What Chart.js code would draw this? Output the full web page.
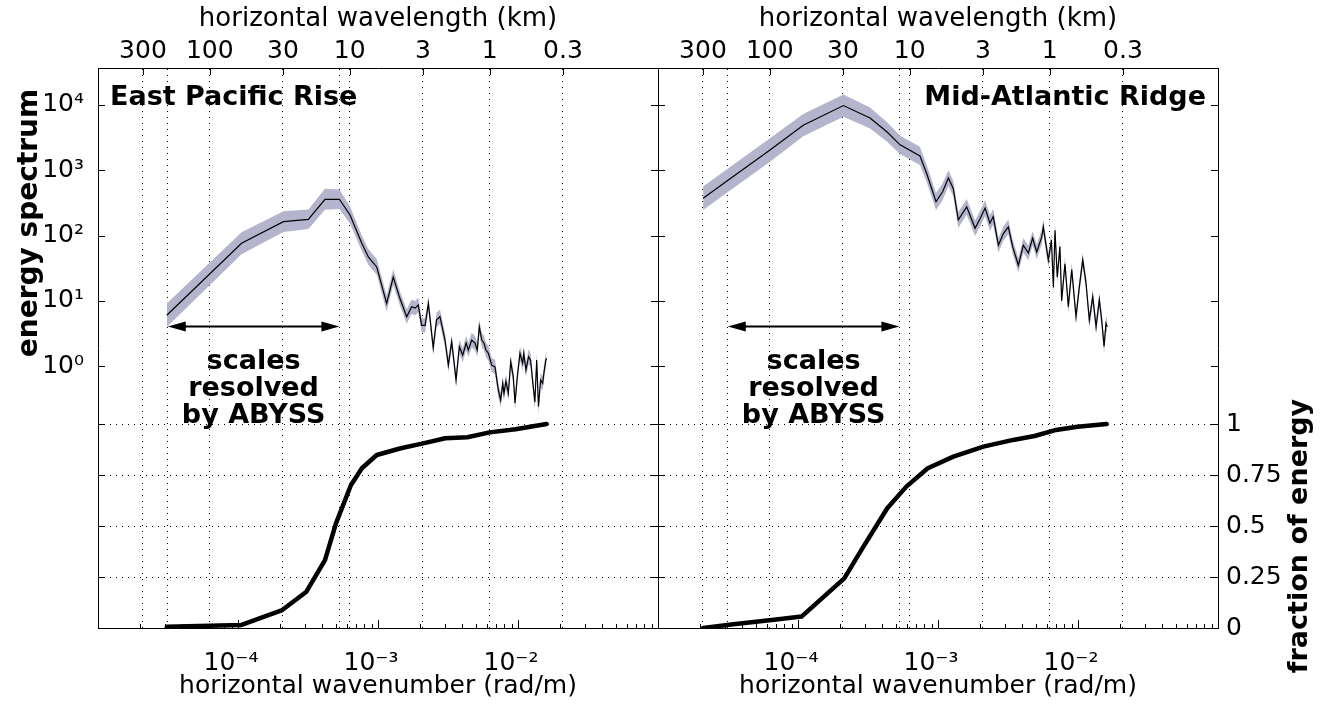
<!DOCTYPE html>
<html>
<head>
<meta charset="utf-8">
<script src="https://cdn.jsdelivr.net/npm/chart.js@4/dist/chart.umd.min.js"></script>
<style>
  html, body { margin: 0; padding: 0; background: #fff; }
  #wrap { position: relative; width: 1321px; height: 706px; overflow: hidden; background: #fff; }
  canvas { position: absolute; top: 0; }
  #left { left: 0; }
  #right { left: 658px; }
</style>
</head>
<body>
<div id="wrap">
  <canvas id="left" width="660" height="706"></canvas>
  <canvas id="right" width="663" height="706"></canvas>
</div>
<script>
// East Pacific Rise: wavenumber (rad/m), energy spectrum, half width of the shaded band (decades)
const eprK = [3.10e-5, 1.06e-4, 2.11e-4, 3.18e-4, 4.18e-4, 5.30e-4, 6.31e-4, 7.66e-4, 8.53e-4, 9.79e-4,
  1.153e-3, 1.285e-3, 1.435e-3, 1.603e-3, 1.74e-3, 1.84e-3, 1.94e-3, 2.05e-3, 2.17e-3, 2.29e-3,
  2.48e-3, 2.62e-3, 2.77e-3, 3.01e-3, 3.18e-3, 3.36e-3, 3.61e-3, 3.81e-3, 4.03e-3, 4.26e-3,
  4.42e-3, 4.67e-3, 4.93e-3, 5.12e-3, 5.29e-3, 5.51e-3, 5.72e-3, 5.90e-3, 6.14e-3, 6.49e-3,
  6.85e-3, 7.23e-3, 7.52e-3, 7.78e-3, 7.94e-3, 8.20e-3, 8.53e-3, 8.87e-3, 9.25e-3, 9.52e-3,
  9.89e-3, 1.033e-2, 1.08e-2, 1.10e-2, 1.14e-2, 1.19e-2, 1.23e-2, 1.27e-2, 1.32e-2, 1.36e-2,
  1.40e-2, 1.45e-2, 1.50e-2, 1.53e-2, 1.58e-2, 1.60e-2];
const eprE = [6.0, 76, 163, 177, 359, 359, 206, 76, 47, 33,
  9.1, 23, 10.8, 5.7, 8.1, 7.7, 8.6, 4.2, 4.2, 9.1,
  1.9, 5.1, 5.7, 2.5, 1.03, 2.36, 0.61, 1.98, 1.47, 2.24,
  1.76, 2.5, 2.24, 1.76, 4.0, 2.5, 2.24, 1.76, 1.57, 1.03,
  0.97, 0.43, 0.30, 0.54, 0.38, 0.58, 0.38, 1.16, 0.69, 0.27,
  0.69, 1.56, 1.1, 1.56, 0.87, 1.39, 1.23, 0.61, 0.28, 1.23,
  0.24, 0.61, 0.54, 0.77, 1.23, 1.31];
const eprBand = [0.18, 0.17, 0.16, 0.15, 0.16, 0.15, 0.13, 0.12, 0.12, 0.12,
  0.12, 0.12, 0.11, 0.11, 0.11, 0.11, 0.11, 0.11, 0.11, 0.11,
  0.11, 0.11, 0.11, 0.11, 0.11, 0.11, 0.11, 0.11, 0.11, 0.11,
  0.11, 0.11, 0.11, 0.11, 0.11, 0.11, 0.11, 0.11, 0.11, 0.11,
  0.11, 0.11, 0.11, 0.11, 0.11, 0.11, 0.11, 0.11, 0.11, 0.11,
  0.11, 0.11, 0.11, 0.11, 0.11, 0.11, 0.11, 0.11, 0.11, 0.11,
  0.11, 0.11, 0.11, 0.11, 0.11, 0.11];
const eprFracK = [3.1e-5, 1.06e-4, 2.07e-4, 3.08e-4, 4.18e-4, 5.01e-4, 6.40e-4, 7.67e-4,
  9.79e-4, 1.456e-3, 2.10e-3, 3.02e-3, 4.35e-3, 6.27e-3, 9.59e-3, 1.60e-2];
const eprFrac = [0.006, 0.015, 0.088, 0.178, 0.333, 0.513, 0.70, 0.783,
  0.848, 0.881, 0.905, 0.930, 0.935, 0.959, 0.974, 1.0];

// Mid-Atlantic Ridge
const marK = [2.1e-5, 3.18e-5, 6.31e-5, 1.09e-4, 2.11e-4, 3.27e-4, 4.31e-4, 5.36e-4, 7.43e-4, 8.30e-4,
  9.68e-4, 1.079e-3, 1.186e-3, 1.285e-3, 1.396e-3, 1.603e-3, 1.84e-3, 2.00e-3, 2.17e-3, 2.35e-3,
  2.48e-3, 2.70e-3, 2.93e-3, 3.18e-3, 3.41e-3, 3.75e-3, 4.07e-3, 4.42e-3, 4.74e-3, 5.07e-3,
  5.51e-3, 5.65e-3, 6.14e-3, 6.46e-3, 6.67e-3, 6.85e-3, 7.11e-3, 7.43e-3, 7.64e-3, 8.07e-3,
  8.53e-3, 9.02e-3, 9.68e-3, 1.021e-2, 1.081e-2, 1.14e-2, 1.205e-2, 1.274e-2, 1.346e-2, 1.42e-2,
  1.476e-2, 1.535e-2, 1.585e-2, 1.618e-2];
const marE = [372, 708, 2040, 4900, 9800, 6310, 3890, 2450, 1660, 890,
  331, 468, 759, 525, 174, 275, 129, 182, 263, 155,
  195, 71, 107, 135, 68, 35, 71, 54, 91, 56,
  95, 136, 42, 85, 16, 120, 23, 68, 10, 37,
  8.1, 30, 5.7, 16, 42, 19, 5.0, 11.5, 4.0, 10.3,
  5.1, 2.0, 4.5, 4.0];
const marBand = [0.18, 0.18, 0.18, 0.17, 0.17, 0.16, 0.15, 0.14, 0.14, 0.13,
  0.13, 0.13, 0.12, 0.12, 0.12, 0.12, 0.12, 0.12, 0.12, 0.12,
  0.12, 0.11, 0.11, 0.11, 0.11, 0.11, 0.11, 0.11, 0.11, 0.11,
  0.11, 0.11, 0.11, 0.11, 0.11, 0.11, 0.11, 0.11, 0.11, 0.11,
  0.11, 0.11, 0.11, 0.11, 0.11, 0.11, 0.11, 0.11, 0.11, 0.11,
  0.11, 0.11, 0.11, 0.11];
const marFracK = [2.1e-5, 3.58e-5, 6.73e-5, 1.06e-4, 2.14e-4, 2.94e-4, 4.34e-4, 5.94e-4,
  8.45e-4, 1.288e-3, 2.11e-3, 3.44e-3, 4.90e-3, 6.97e-3, 9.91e-3, 1.60e-2];
const marFrac = [0, 0.02, 0.04, 0.056, 0.243, 0.40, 0.587, 0.693,
  0.783, 0.840, 0.889, 0.922, 0.941, 0.971, 0.987, 1.0];

// axes
const wavelengthsKm = [300, 100, 30, 10, 3, 1, 0.3];   // top axis ticks
const abyssK = [3.15e-5, 5.3e-4];                       // scales resolved by ABYSS
const arrowLevel = 4.1;                                 // energy value where the arrow sits
const wavenumberTicks = [1e-4, 1e-3, 1e-2];             // labelled bottom ticks
const energyTicks = [1, 10, 100, 1000, 10000];
const fractionTicks = [0, 0.25, 0.5, 0.75, 1];

const FONT = '"DejaVu Sans", "Liberation Sans", sans-serif';
const BAND = '#b4b4cc';
const SUP = {'-': '⁻', '0': '⁰', '1': '¹', '2': '²', '3': '³', '4': '⁴', '5': '⁵', '6': '⁶', '7': '⁷', '8': '⁸', '9': '⁹'};

function pow10Label(n) {
  return '10' + String(n).split('').map(c => SUP[c]).join('');
}
function kFromKm(l) {
  return 2 * Math.PI / (l * 1000);
}
function isDecade(v) {
  const e = Math.log10(v);
  return Math.abs(e - Math.round(e)) < 1e-6;
}
// fixed box sizes so both plot areas land where the reference has them
function fixSize(s, w, h) {
  if (w !== null) s.width = w;
  if (h !== null) s.height = h;
  s.paddingLeft = s.paddingRight = s.paddingTop = s.paddingBottom = 0;
}

// bottom ticks: decades and minor ticks
const xTickValues = [];
for (let e = -5; e <= -1; e++) {
  xTickValues.push(Math.pow(10, e));
  if (e < -1) for (let m = 2; m <= 9; m++) xTickValues.push(m * Math.pow(10, e));
}

Chart.defaults.font.family = FONT;
Chart.defaults.font.size = 25;
Chart.defaults.color = '#000';

// tick marks, panel titles, arrow and side labels
const panelExtras = {
  id: 'panelExtras',
  afterDraw(chart, args, o) {
    const ctx = chart.ctx;
    const a = chart.chartArea;
    const sx = chart.scales.x, sx2 = chart.scales.x2, sy = chart.scales.y, sf = chart.scales.yf;
    ctx.save();
    ctx.strokeStyle = '#000';
    ctx.fillStyle = '#000';
    ctx.lineWidth = 1;
    ctx.beginPath();
    sx.ticks.forEach(t => {
      const px = Math.round(sx.getPixelForValue(t.value)) + 0.5;
      if (px <= a.left + 1 || px >= a.right - 1) return;
      const len = isDecade(t.value) ? 8 : 4;
      ctx.moveTo(px, a.bottom);
      ctx.lineTo(px, a.bottom - len);
    });
    wavelengthsKm.forEach(l => {
      const px = Math.round(sx2.getPixelForValue(kFromKm(l))) + 0.5;
      ctx.moveTo(px, a.top);
      ctx.lineTo(px, a.top + 7);
    });
    energyTicks.forEach(v => {
      const py = Math.round(sy.getPixelForValue(v)) + 0.5;
      ctx.moveTo(a.left, py); ctx.lineTo(a.left + 7, py);
      ctx.moveTo(a.right, py); ctx.lineTo(a.right - 7, py);
    });
    fractionTicks.forEach(v => {
      const py = Math.round(sf.getPixelForValue(v)) + 0.5;
      ctx.moveTo(a.left, py); ctx.lineTo(a.left + 7, py);
      ctx.moveTo(a.right, py); ctx.lineTo(a.right - 7, py);
    });
    ctx.stroke();

    // panel title
    ctx.font = 'bold 27px ' + FONT;
    ctx.textBaseline = 'alphabetic';
    if (o.titleAlign === 'left') {
      ctx.textAlign = 'left';
      ctx.fillText(o.title, a.left + 12, a.top + 37);
    } else {
      ctx.textAlign = 'right';
      ctx.fillText(o.title, a.right - 12, a.top + 37);
    }

    // double arrow over the ABYSS range
    const xa = sx.getPixelForValue(abyssK[0]);
    const xb = sx.getPixelForValue(abyssK[1]);
    const ya = Math.round(sy.getPixelForValue(arrowLevel)) + 0.5;
    const head = 18, hw = 5;
    ctx.lineWidth = 2;
    ctx.beginPath();
    ctx.moveTo(xa + head - 2, ya);
    ctx.lineTo(xb - head + 2, ya);
    ctx.stroke();
    ctx.beginPath();
    ctx.moveTo(xa, ya); ctx.lineTo(xa + head, ya - hw); ctx.lineTo(xa + head, ya + hw); ctx.closePath();
    ctx.moveTo(xb, ya); ctx.lineTo(xb - head, ya - hw); ctx.lineTo(xb - head, ya + hw); ctx.closePath();
    ctx.fill();

    const xm = sx.getPixelForValue(Math.sqrt(abyssK[0] * abyssK[1]));
    ctx.textAlign = 'center';
    ['scales', 'resolved', 'by ABYSS'].forEach((s, i) => {
      ctx.fillText(s, xm, ya + 42 + i * 27);
    });

    // vertical axis title
    ctx.translate(o.yTitleX, o.yTitleY);
    ctx.rotate(-Math.PI / 2);
    ctx.textBaseline = 'middle';
    ctx.font = 'bold ' + o.yTitleSize + 'px ' + FONT;
    ctx.fillText(o.yTitle, 0, 0);
    ctx.restore();
  }
};

function makePanel(id, p) {
  const onLeft = p.side === 'left';
  const band = (sign) => p.k.map((k, i) => ({x: k, y: p.e[i] * Math.pow(10, sign * p.band[i])}));
  return new Chart(document.getElementById(id), {
    type: 'line',
    data: {
      datasets: [
        {data: band(1), fill: '+1', backgroundColor: BAND, borderColor: 'transparent', borderWidth: 0, order: 3},
        {data: band(-1), fill: false, borderColor: 'transparent', borderWidth: 0, order: 3},
        {data: p.k.map((k, i) => ({x: k, y: p.e[i]})), fill: false, borderColor: '#000', borderWidth: 1.2, order: 1},
        {data: p.fk.map((k, i) => ({x: k, y: p.f[i]})), yAxisID: 'yf', fill: false, borderColor: '#000',
          borderWidth: 4.5, borderJoinStyle: 'round', borderCapStyle: 'round', order: 0}
      ]
    },
    options: {
      responsive: false,
      animation: false,
      devicePixelRatio: 1,
      events: [],
      layout: {padding: 0, autoPadding: false},
      elements: {point: {radius: 0}, line: {tension: 0}},
      plugins: {
        legend: {display: false},
        tooltip: {enabled: false},
        panelExtras: {title: p.title, titleAlign: p.side, yTitle: p.yTitle, yTitleX: p.yTitleX,
          yTitleY: p.yTitleY, yTitleSize: p.yTitleSize}
      },
      scales: {
        x: {
          type: 'logarithmic', position: 'bottom', min: 1e-5, max: 1e-1,
          afterBuildTicks: s => { s.ticks = xTickValues.map(v => ({value: v})); },
          afterFit: s => fixSize(s, null, 78),
          grid: {display: false},
          border: {display: true, color: '#000', width: 1},
          ticks: {
            autoSkip: false, maxRotation: 0, padding: 12, labelOffset: -7,
            callback: v => wavenumberTicks.some(t => Math.abs(Math.log10(t / v)) < 1e-6) ? pow10Label(Math.round(Math.log10(v))) : ''
          },
          title: {display: true, text: 'horizontal wavenumber (rad/m)', padding: {top: 0, bottom: 5}}
        },
        x2: {
          type: 'logarithmic', position: 'top', min: 1e-5, max: 1e-1, z: 1,
          afterBuildTicks: s => {
            s.ticks = wavelengthsKm.map(l => ({value: kFromKm(l)})).concat(abyssK.map(v => ({value: v})));
          },
          afterFit: s => fixSize(s, null, 68),
          grid: {display: true, color: '#000', lineWidth: 1, drawTicks: false},
          border: {display: true, color: '#000', width: 1, dash: [1, 5]},
          ticks: {
            autoSkip: false, maxRotation: 0, padding: 2,
            callback: (v, i) => i < wavelengthsKm.length ? String(wavelengthsKm[i]) : ''
          },
          title: {display: true, text: 'horizontal wavelength (km)', font: {size: 26}, padding: {top: 4, bottom: 0}}
        },
        y: {
          type: 'logarithmic', position: 'left', min: Math.pow(10, -4.015), max: Math.pow(10, 4.567),
          afterBuildTicks: s => { s.ticks = energyTicks.map(v => ({value: v})); },
          afterFit: s => fixSize(s, onLeft ? 98 : 0, null),
          grid: {display: false},
          border: {display: true, color: '#000', width: 1},
          ticks: {display: onLeft, autoSkip: false, padding: 6, callback: v => pow10Label(Math.round(Math.log10(v)))}
        },
        yf: {
          type: 'linear', position: 'right', min: 0, max: 560 / 204, z: 1,
          afterBuildTicks: s => { s.ticks = fractionTicks.map(v => ({value: v})); },
          afterFit: s => fixSize(s, onLeft ? 2 : 103, null),
          grid: {display: true, color: '#000', lineWidth: 1, drawTicks: false},
          border: {display: true, color: '#000', width: 1, dash: [1, 5]},
          ticks: {display: !onLeft, autoSkip: false, padding: 8, callback: v => String(v)}
        }
      }
    },
    plugins: [panelExtras]
  });
}

makePanel('left', {
  side: 'left', title: 'East Pacific Rise',
  k: eprK, e: eprE, band: eprBand, fk: eprFracK, f: eprFrac,
  yTitle: 'energy spectrum', yTitleX: 30, yTitleY: 223, yTitleSize: 28
});
makePanel('right', {
  side: 'right', title: 'Mid-Atlantic Ridge',
  k: marK, e: marE, band: marBand, fk: marFracK, f: marFrac,
  yTitle: 'fraction of energy', yTitleX: 642, yTitleY: 536, yTitleSize: 27
});
</script>
</body>
</html>
